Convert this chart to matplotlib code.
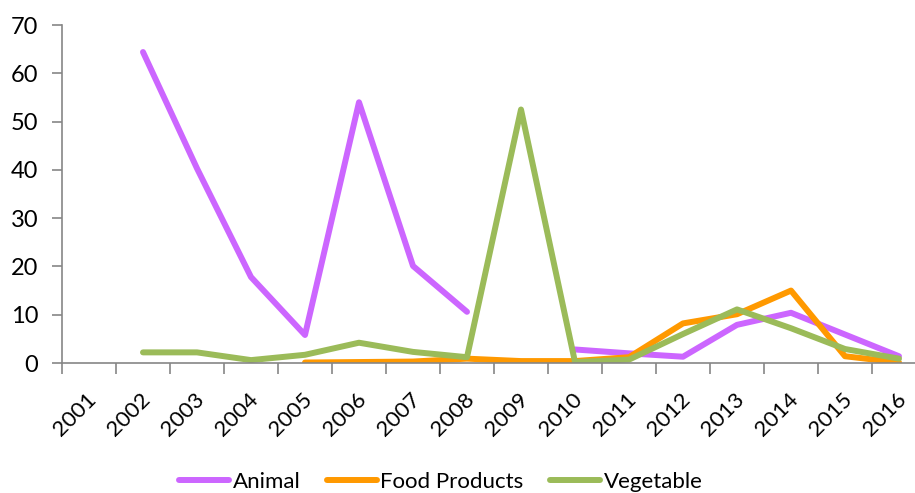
import numpy as np
import matplotlib
matplotlib.use("Agg")
import matplotlib.pyplot as plt
from matplotlib.ticker import FixedLocator
import matplotlib.transforms as mtransforms

years = [str(y) for y in range(2001, 2017)]
nan = np.nan
animal = [nan, 64.4, 40.3, 17.8, 5.8, 54.0, 20.1, 10.6, nan, 2.8, 2.0, 1.3, 7.9, 10.4, 5.9, 1.4]
food_products = [nan, nan, nan, nan, 0.1, 0.2, 0.3, 0.9, 0.4, 0.4, 1.2, 8.2, 10.1, 15.0, 1.4, 0.1]
vegetable = [nan, 2.2, 2.2, 0.6, 1.7, 4.2, 2.3, 1.2, 52.5, 0.2, 0.7, 6.0, 11.1, 7.2, 2.9, 0.9]

series_names = ["Animal", "Food Products", "Vegetable"]
colors = ["#CC66FF", "#FF9900", "#9BBB59"]

plt.rcParams['font.family'] = ['Lato', 'DejaVu Sans']

fig = plt.figure(figsize=(9.15, 4.93), dpi=100)
ax = fig.add_axes([62/915, 1 - 363/493, 864/915, 338/493])

x = np.arange(len(years))
for vals, name, c in zip([animal, food_products, vegetable], series_names, colors):
    ax.plot(x, vals, color=c, lw=4.3, label=name,
            solid_capstyle='round', solid_joinstyle='round')

ax.set_xlim(-0.5, len(years) - 0.5)
ax.set_ylim(0, 70)
ax.set_yticks(np.arange(0, 71, 10))
ax.tick_params(axis='y', labelsize=17, length=7, width=1.2, color='#868686', pad=10)

ax.xaxis.set_minor_locator(FixedLocator(np.arange(-0.5, len(years), 1.0)))
ax.tick_params(axis='x', which='minor', length=8, width=1.2, color='#868686')
ax.tick_params(axis='x', which='major', length=0, pad=0)
ax.set_xticks(x)
ax.set_xticklabels(years, rotation=45, ha='right', va='top', rotation_mode='anchor', fontsize=16)
offset = mtransforms.ScaledTranslation(-3/100, -26/100, fig.dpi_scale_trans)
for lbl in ax.get_xticklabels():
    lbl.set_transform(lbl.get_transform() + offset)

for s in ['top', 'right']:
    ax.spines[s].set_visible(False)
for s in ['left', 'bottom']:
    ax.spines[s].set_color('#868686')
    ax.spines[s].set_linewidth(1.2)

leg = fig.legend(loc='center', bbox_to_anchor=(441/915, 1 - 482/493), ncol=3,
                 frameon=False, fontsize=16, handlelength=2.25, handletextpad=0.15,
                 columnspacing=1.2)

fig.savefig("out.png", dpi=100)
